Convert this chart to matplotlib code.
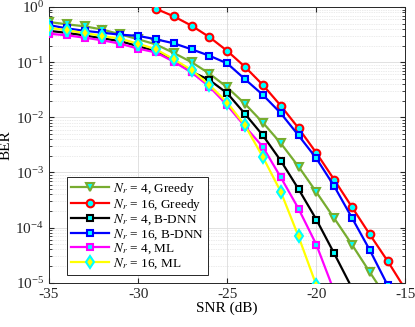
import matplotlib
matplotlib.use("Agg")
import matplotlib.pyplot as plt
import numpy as np
from matplotlib.ticker import LogLocator, NullFormatter, MultipleLocator

plt.rcParams['font.family'] = ['Liberation Serif', 'DejaVu Serif']
plt.rcParams['mathtext.fontset'] = 'stix'
plt.rcParams['axes.unicode_minus'] = False

snr_full = [-35, -34, -33, -32, -31, -30, -29, -28, -27, -26, -25, -24, -23, -22, -21, -20, -19, -18, -17, -16, -15]

snr_g4 = snr_full[:20]
ber_g4 = [0.535, 0.486, 0.447, 0.39, 0.32, 0.26, 0.21, 0.147, 0.10, 0.062, 0.035, 0.0175,
          0.0080, 0.0034, 0.00128, 4.4e-4, 1.48e-4, 4.9e-5, 1.55e-5, 5e-6]

snr_g16 = snr_full[6:]
ber_g16 = [0.93, 0.678, 0.459, 0.285, 0.160, 0.082, 0.0386, 0.0163, 0.00635, 0.00226,
           7.4e-4, 2.35e-4, 7.5e-5, 2.47e-5, 7.5e-6]

snr_b4 = snr_full[:18]
ber_b4 = [0.37, 0.34, 0.305, 0.27, 0.24, 0.195, 0.158, 0.107, 0.067, 0.0476, 0.0273, 0.0115,
          0.0047, 0.00164, 5.0e-4, 1.4e-4, 3.4e-5, 8e-6]

snr_b16 = snr_full[:20]
ber_b16 = [0.47, 0.41, 0.37, 0.342, 0.315, 0.30, 0.26, 0.22, 0.171, 0.131, 0.095, 0.049,
           0.0255, 0.0119, 0.0047, 0.0018, 5.65e-4, 1.5e-4, 3.9e-5, 9e-6]

snr_m4 = snr_full[:17]
ber_m4 = [0.328, 0.307, 0.278, 0.249, 0.216, 0.176, 0.15, 0.102, 0.065, 0.036, 0.0165, 0.0068,
          0.0029, 8.2e-4, 2.2e-4, 4.9e-5, 7e-6]

snr_m16 = snr_full[:16]
ber_m16 = [0.42, 0.378, 0.338, 0.298, 0.267, 0.216, 0.171, 0.113, 0.072, 0.0386, 0.0185, 0.0071,
           0.0019, 4.5e-4, 6.9e-5, 9e-6]

labels = [r'$N_r$ = 4, Greedy', r'$N_r$ = 16, Greedy', r'$N_r$ = 4, B-DNN',
          r'$N_r$ = 16, B-DNN', r'$N_r$ = 4, ML', r'$N_r$ = 16, ML']

fig = plt.figure(figsize=(4.15, 3.27), dpi=100)
ax = fig.add_axes([0.118, 0.1355, 0.859, 0.843])

lw = 1.6
ms = 5.5
mew = 1.5
ax.plot(snr_g4, ber_g4, color='#77AC30', lw=lw, marker='v', ms=ms+0.5, mec='#77AC30', mfc='cyan', mew=mew, label=labels[0], zorder=3)
ax.plot(snr_g16, ber_g16, color='red', lw=lw, marker='o', ms=ms, mec='red', mfc='cyan', mew=mew, label=labels[1], zorder=3)
ax.plot(snr_b4, ber_b4, color='black', lw=lw, marker='s', ms=ms-0.5, mec='black', mfc='cyan', mew=mew, label=labels[2], zorder=3)
ax.plot(snr_b16, ber_b16, color='blue', lw=lw, marker='s', ms=ms-0.5, mec='blue', mfc='cyan', mew=mew, label=labels[3], zorder=3)
ax.plot(snr_m4, ber_m4, color='magenta', lw=lw, marker='s', ms=ms-0.5, mec='magenta', mfc='cyan', mew=mew, label=labels[4], zorder=3)
ax.plot(snr_m16, ber_m16, color='yellow', lw=lw, marker='d', ms=ms+0.5, mec='cyan', mfc='yellow', mew=mew, label=labels[5], zorder=3)

ax.set_yscale('log')
ax.set_xlim(-35, -15)
ax.set_ylim(1e-5, 1)
ax.xaxis.set_major_locator(MultipleLocator(5))
ax.yaxis.set_major_locator(LogLocator(base=10, numticks=10))
ax.yaxis.set_minor_locator(LogLocator(base=10, subs=np.arange(2, 10), numticks=10))
ax.yaxis.set_minor_formatter(NullFormatter())

ax.grid(True, which='major', color='#dcdcdc', lw=0.6, ls='-')
ax.grid(True, which='minor', axis='y', color='#d8d8d8', lw=0.5, ls=(0, (1, 1.5)))
ax.set_axisbelow(True)

ax.tick_params(which='both', direction='in', top=True, right=True, colors='#262626', labelsize=11)
ax.tick_params(which='major', length=3.5)
ax.tick_params(which='minor', length=2)
for s in ax.spines.values():
    s.set_color('#262626')
    s.set_linewidth(0.7)

ax.set_xlabel('SNR (dB)', fontsize=11, labelpad=1)
ax.set_ylabel('BER', fontsize=11, labelpad=2)

leg = ax.legend(loc='lower left', bbox_to_anchor=(0.05, 0.029), borderaxespad=0,
                fontsize=9.5, handlelength=2.9, handletextpad=0.3, labelspacing=0.0,
                borderpad=0.3, fancybox=False, framealpha=1, edgecolor='#262626')
leg.get_frame().set_linewidth(0.7)

fig.savefig('out.png', dpi=100)
